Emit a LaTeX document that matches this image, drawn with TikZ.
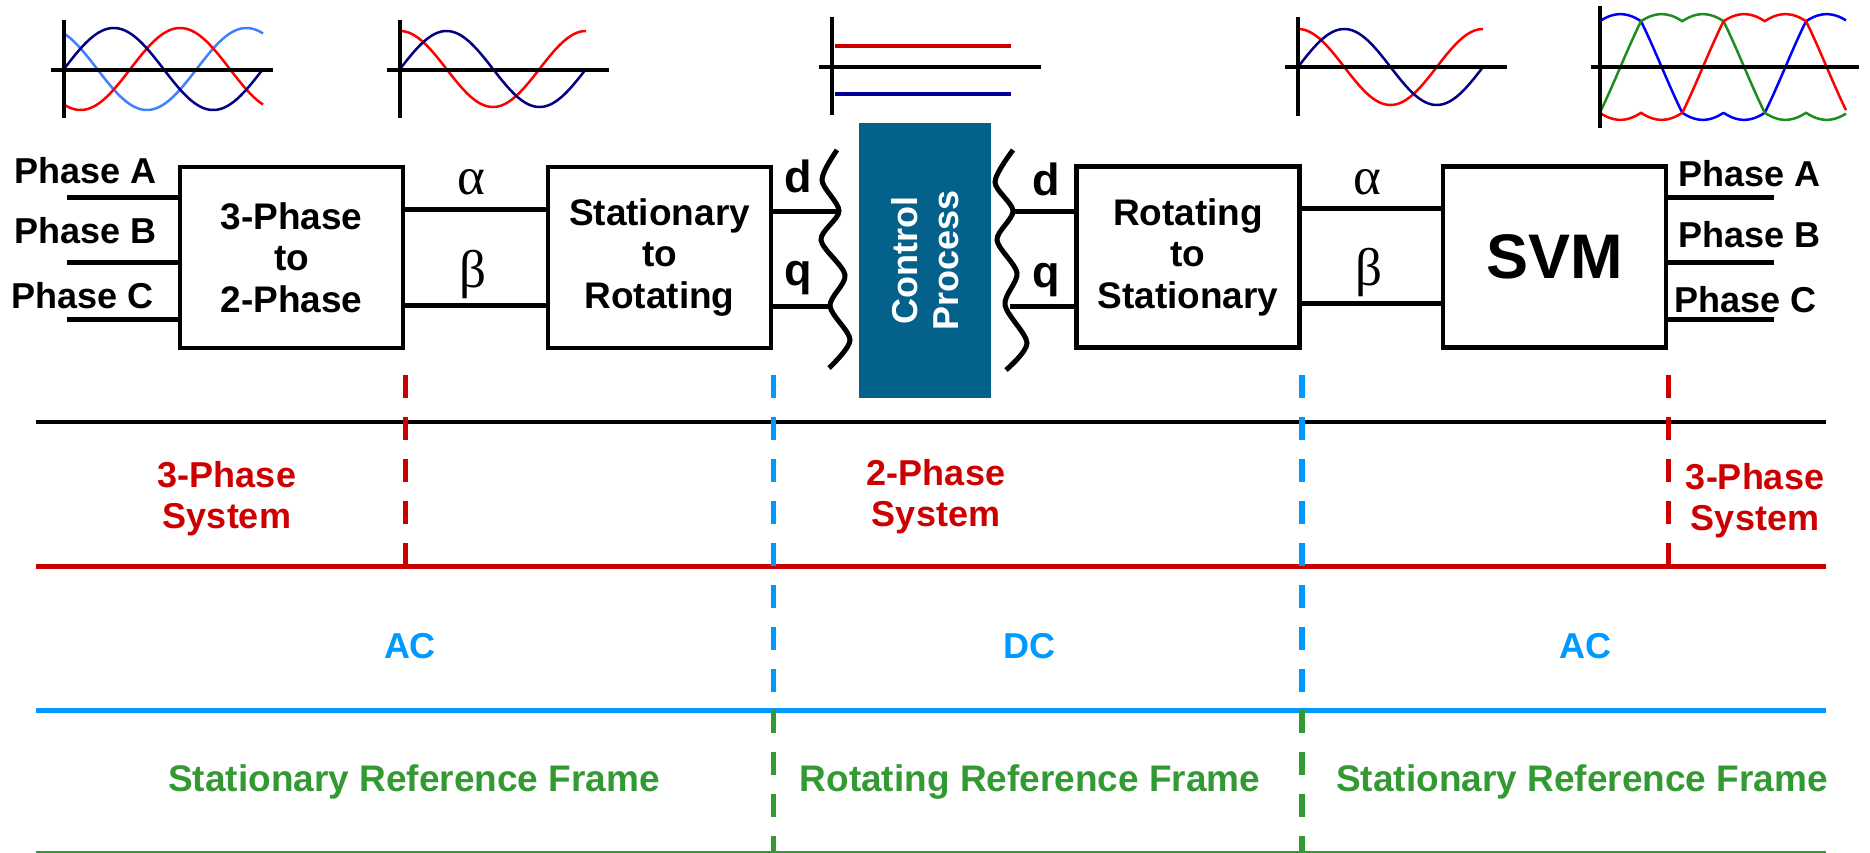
\documentclass[tikz,border=0pt]{standalone}
\usepackage{fontspec}
\setmainfont{Liberation Sans}
\newfontfamily\greekfont{Liberation Serif}
\definecolor{navyc}{HTML}{000080}
\definecolor{redc}{HTML}{FF0000}
\definecolor{lbluec}{HTML}{4080FF}
\definecolor{dcred}{HTML}{CC0000}
\definecolor{dcblue}{HTML}{000099}
\definecolor{svmblue}{HTML}{0000FF}
\definecolor{svmgreen}{HTML}{1E8C1E}
\definecolor{bandred}{HTML}{CC0000}
\definecolor{bandblue}{HTML}{0099FF}
\definecolor{bandgreen}{HTML}{339933}
\definecolor{ctrlc}{HTML}{04618C}
\begin{document}
\begin{tikzpicture}[x=1pt,y=-1pt,
  declare function={svm(\t)=sin(\t)-0.5*(max(sin(\t),sin(\t-120),sin(\t+120))+min(sin(\t),sin(\t-120),sin(\t+120)));},
  blk/.style={draw, line width=4.5pt, inner sep=0pt, minimum width=223pt, minimum height=181pt, align=center, font=\bfseries\fontsize{37}{41.5}\selectfont},
  wire/.style={line width=5pt},
  ax/.style={line width=3.5pt},
  crv/.style={line width=2.5pt},
  lab/.style={font=\bfseries\fontsize{36}{41}\selectfont, inner sep=0pt},
  grk/.style={font=\greekfont\fontsize{53}{55}\selectfont, inner sep=0pt},
  dq/.style={font=\bfseries\fontsize{45}{48}\selectfont, inner sep=0pt},
  vdash/.style={line width=5.5pt, dash pattern=on 23pt off 19pt},
]
\useasboundingbox (0,0) rectangle (1870,853);

% ---------- waveform sketches ----------
% plot 1: three phase
\draw[crv, lbluec] plot[domain=64:263, samples=150] (\x,{69-41*sin((\x-64)*1.809+120)});
\draw[crv, redc] plot[domain=64:263, samples=150] (\x,{69-41*sin((\x-64)*1.809-120)});
\draw[crv, navyc] plot[domain=64:263, samples=150] (\x,{69-41*sin((\x-64)*1.809)});
\draw[ax] (64,20) -- (64,118);
\draw[ax] (51,70) -- (273,70);
% plot 2: alpha beta
\draw[crv, redc] plot[domain=400:586, samples=150] (\x,{69-38*cos((\x-400)*1.9355)});
\draw[crv, navyc] plot[domain=400:586, samples=150] (\x,{69-38*sin((\x-400)*1.9355)});
\draw[ax] (400,20) -- (400,118);
\draw[ax] (387,70) -- (609,70);
% plot 3: dc
\draw[line width=3.5pt, dcred] (835,46) -- (1011,46);
\draw[line width=3.5pt, dcblue] (835,94) -- (1011,94);
\draw[ax] (832,17) -- (832,115);
\draw[ax] (819,67) -- (1041,67);
% plot 4: alpha beta
\draw[crv, redc] plot[domain=1298:1483, samples=150] (\x,{67-38*cos((\x-1298)*1.9459)});
\draw[crv, navyc] plot[domain=1298:1483, samples=150] (\x,{67-38*sin((\x-1298)*1.9459)});
\draw[ax] (1298,17) -- (1298,116);
\draw[ax] (1285,67) -- (1507,67);
% plot 5: svm
\draw[crv, svmblue] plot[domain=1601:1846, samples=300] (\x,{67-61*svm(150+(\x-1641)*1.4545)});
\draw[crv, svmgreen] plot[domain=1601:1846, samples=300] (\x,{67-61*svm(30+(\x-1641)*1.4545)});
\draw[crv, redc] plot[domain=1601:1846, samples=300] (\x,{67-61*svm(-90+(\x-1641)*1.4545)});
\draw[ax] (1600,6) -- (1600,128);
\draw[ax] (1591,67) -- (1859,67);

% ---------- blocks ----------
\node[blk] (b1) at (291.5,257.5) {3-Phase\\to\\2-Phase};
\node[blk] (b2) at (659.5,257.5) {Stationary\\to\\Rotating};
\node[blk] (b3) at (1188,257) {Rotating\\to\\Stationary};
\node[blk, font=\bfseries\fontsize{63}{66}\selectfont] (svm) at (1554.5,257) {SVM};
\node[fill=ctrlc, minimum width=275pt, minimum height=132pt, inner sep=0pt, text=white, align=center, rotate=90,
      font=\bfseries\fontsize{36}{41}\selectfont] (ctrl) at (925,260.5) {Control\\Process};

% ---------- phase inputs / outputs ----------
\node[lab, anchor=base west] (pa1) at (14,184) {Phase A};
\node[lab, anchor=base west] (pb1) at (14,243) {Phase B};
\node[lab, anchor=base west] (pc1) at (11,308) {Phase C};
\coordinate (iA) at (67,198);
\coordinate (iB) at (67,262);
\coordinate (iC) at (67,319);
\draw[wire] (iA) -- (b1.west |- iA);
\draw[wire] (iB) -- (b1.west |- iB);
\draw[wire] (iC) -- (b1.west |- iC);

\node[lab, anchor=base west] (pa2) at (1678,187) {Phase A};
\node[lab, anchor=base west] (pb2) at (1678,247) {Phase B};
\node[lab, anchor=base west] (pc2) at (1674,312) {Phase C};
\coordinate (oA) at (1774,198);
\coordinate (oB) at (1774,262);
\coordinate (oC) at (1774,319);
\draw[wire] (svm.east |- oA) -- (oA);
\draw[wire] (svm.east |- oB) -- (oB);
\draw[wire] (svm.east |- oC) -- (oC);

% ---------- alpha beta links ----------
\coordinate (ya1) at (0,209);
\coordinate (yb1) at (0,305);
\draw[wire] (b1.east |- ya1) -- (b2.west |- ya1);
\draw[wire] (b1.east |- yb1) -- (b2.west |- yb1);
\node[grk, anchor=base] (al1) at (471,195) {α};
\node[grk, anchor=base] (be1) at (473,287) {β};

\coordinate (ya2) at (0,208);
\coordinate (yb2) at (0,303);
\draw[wire] (b3.east |- ya2) -- (svm.west |- ya2);
\draw[wire] (b3.east |- yb2) -- (svm.west |- yb2);
\node[grk, anchor=base] (al2) at (1367,195) {α};
\node[grk, anchor=base] (be2) at (1369,285) {β};

% ---------- d q links and break lines ----------
\draw[wire] plot[smooth] coordinates {(837,150) (822,180) (839,211) (821,240) (845,275) (830,306) (850,340) (829,368)};
\draw[wire] plot[smooth] coordinates {(1013,150) (995,182) (1013,211) (997,240) (1017,273) (1005,305) (1027,343) (1006,370)};
\coordinate (wd1) at (838,211);
\coordinate (wq1) at (832,306);
\coordinate (wd2) at (1013,211);
\coordinate (wq2) at (1010,306);
\draw[wire] (b2.east |- wd1) -- (wd1);
\draw[wire] (b2.east |- wq1) -- (wq1);
\draw[wire] (wd2) -- (b3.west |- wd2);
\draw[wire] (wq2) -- (b3.west |- wq2);
\node[dq, anchor=base] (d1) at (798,193) {d};
\node[dq, anchor=base] (q1) at (798,285) {q};
\node[dq, anchor=base] (d2) at (1046,196) {d};
\node[dq, anchor=base] (q2) at (1046,287) {q};

% ---------- bands ----------
\draw[line width=4pt] (36,422) -- (1826,422);
\draw[line width=5pt, bandred] (36,566) -- (1826,566);
\draw[line width=5pt, bandblue] (36,710) -- (1826,710);
\draw[line width=3pt, bandgreen] (36,852) -- (1826,852);

\coordinate (ytop) at (0,375);
\coordinate (yred) at (0,566);
\coordinate (yblue) at (0,710);
\coordinate (ygreen) at (0,853);
\draw[vdash, bandred] (b1.east |- ytop) -- (b1.east |- yred);
\draw[vdash, bandred] (svm.east |- ytop) -- (svm.east |- yred);
\draw[vdash, bandblue] (b2.east |- ytop) -- (b2.east |- yblue);
\draw[vdash, bandblue] (b3.east |- ytop) -- (b3.east |- yblue);
\draw[vdash, bandgreen] (b2.east |- yblue) -- (b2.east |- ygreen);
\draw[vdash, bandgreen] (b3.east |- yblue) -- (b3.east |- ygreen);

\node[lab, text=bandred, align=center] (s3a) at (227,499) {3-Phase\\System};
\node[lab, text=bandred, align=center] (s2) at (936,496.5) {2-Phase\\System};
\node[lab, text=bandred, align=center] (s3b) at (1755,500.5) {3-Phase\\System};

\node[lab, text=bandblue, anchor=base] (ac1) at (410,658) {AC};
\node[lab, text=bandblue, anchor=base] (dc) at (1029,658) {DC};
\node[lab, text=bandblue, anchor=base] (ac2) at (1585,658) {AC};

\node[lab, text=bandgreen, anchor=base, font=\bfseries\fontsize{37}{41}\selectfont] (srf1) at (414,791) {Stationary Reference Frame};
\node[lab, text=bandgreen, anchor=base, font=\bfseries\fontsize{37}{41}\selectfont] (rrf) at (1030,791) {Rotating Reference Frame};
\node[lab, text=bandgreen, anchor=base, font=\bfseries\fontsize{37}{41}\selectfont] (srf2) at (1582,791) {Stationary Reference Frame};
\end{tikzpicture}
\end{document}
